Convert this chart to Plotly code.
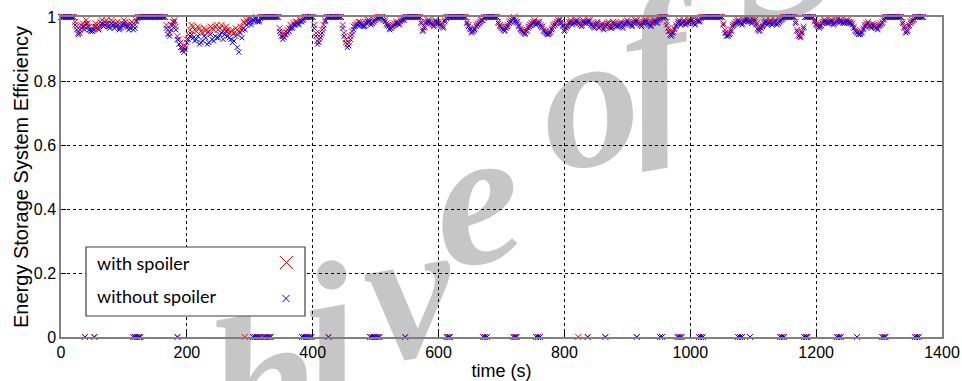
import plotly.graph_objects as go

# ---- data ----
# main samples every 5 s from 0 to 1370 s
time_s = list(range(0, 1371, 5))
# in-between samples (2.5 s later), which give the cloud its spread
time_s_mid = [t + 2.5 for t in range(0, 1370, 5)]

eff_with_spoiler = [
    1, 1, 1, 1, 1, .97, .96, .98, .99, .97, .96, .98, .965, .99, .985, .98, .99, .975, .985, .97,          # 0-95
    .99, .975, .98, .97, .99, 1, 1, 1, 1, 1, 1, 1, 1, 1, .96, .975, .99, .94, .92, .90,                  # 100-195
    .93, .96, .97, .955, .965, .95, .96, .955, .965, .97, .96, .975, .965, .96, .955, .95, .945, .97, .985, .99,  # 200-295
    .995, .99, 1, .99, 1, 1, 1, 1, 1, 1, .95, .945, .96, .975, .98, .985, .99, .995, 1, 1,               # 300-395
    1, .95, .93, .96, .99, 1, 1, 1, 1, 1, .95, .915, .94, .97, .98, .985, .975, .985, .99, .985,          # 400-495
    .995, 1, 1, .99, .975, .97, .98, .985, .99, .995, 1, 1, 1, 1, 1, .96, .985, .99, .98, .99,            # 500-595
    .985, .975, .99, 1, 1, 1, 1, 1, 1, .985, .965, .96, .975, .985, .99, 1, 1, 1, 1, .985,               # 600-695
    .97, .96, .975, .99, 1, .985, .965, .955, .96, .975, .985, .98, .985, .97, .955, .95, .965, .98, .99, .985,  # 700-795
    .96, .975, .99, .985, .99, .98, .99, .985, .99, .975, .98, .97, .98, .975, .985, .97, .98, .975, .985, .98,  # 800-895
    .99, .98, .985, .99, .98, .985, .99, .98, .985, .99, .995, 1, 1, .965, .945, .965, .985, .98, .99, .985,     # 900-995
    .99, .985, .995, .99, 1, 1, 1, 1, 1, 1, 1, .96, .945, .96, .98, .99, .985, .99, .995, .99,            # 1000-1095
    .995, .98, .96, .975, .99, .985, .98, .99, .985, .995, 1, 1, 1, 1, .96, .94, .97, 1, 1, 1,            # 1100-1195
    .98, .97, .985, .99, .985, .99, .985, .995, .99, .985, .99, .985, .97, .955, .95, .965, .98, .975, .98, .97,  # 1200-1295
    .975, .985, 1, 1, 1, 1, 1, 1, .97, .96, .985, .995, 1, 1, 1,                                        # 1300-1370
]

eff_without_spoiler = [
    1, 1, 1, 1, 1, .96, .95, .97, .98, .96, .955, .97, .96, .98, .975, .97, .98, .965, .975, .965,
    .98, .97, .965, .96, .985, 1, 1, 1, 1, 1, 1, 1, 1, 1, .945, .96, .985, .93, .905, .89,
    .92, .94, .935, .93, .915, .925, .935, .92, .93, .94, .935, .95, .945, .94, .93, .925, .905, .95, .965, .975,
    .985, .99, .995, .985, 1, 1, 1, 1, 1, 1, .94, .935, .95, .965, .975, .98, .985, .99, 1, 1,
    1, .94, .92, .95, .985, 1, 1, 1, 1, 1, .94, .905, .93, .96, .975, .98, .97, .98, .985, .98,
    .99, .995, 1, .985, .97, .965, .975, .98, .985, .99, 1, 1, 1, 1, 1, .955, .98, .985, .975, .985,
    .98, .97, .985, 1, 1, 1, 1, 1, 1, .98, .96, .955, .97, .98, .99, 1, 1, 1, 1, .98,
    .965, .955, .97, .985, .995, .98, .96, .95, .955, .97, .98, .975, .98, .965, .95, .945, .96, .975, .985, .98,
    .955, .97, .985, .98, .985, .975, .985, .98, .985, .97, .975, .965, .975, .97, .98, .965, .975, .97, .98, .975,
    .985, .975, .98, .985, .975, .98, .985, .975, .98, .985, .99, 1, 1, .955, .94, .96, .98, .975, .985, .98,
    .985, .98, .99, .985, 1, 1, 1, 1, 1, 1, 1, .95, .94, .955, .975, .985, .98, .985, .99, .985,
    .99, .975, .955, .97, .985, .98, .975, .985, .98, .99, 1, 1, 1, 1, .955, .935, .965, 1, 1, 1,
    .975, .965, .98, .985, .98, .985, .98, .99, .985, .98, .985, .98, .965, .95, .945, .96, .975, .97, .975, .965,
    .97, .98, 1, 1, 1, 1, 1, 1, .965, .955, .98, .99, 1, 1, 1,
]

eff_with_spoiler_mid = [
    1, 1, 1, 1, .985, .95, .975, .97, .98, .96, .97, .975, .985, .975, .99, .97, .985, .98, .965, .98,
    .985, .97, .985, .975, 1, 1, 1, 1, 1, 1, 1, 1, 1, .975, .95, .985, .97, .93, .905, .91,
    .945, .975, .96, .97, .955, .965, .95, .97, .96, .975, .965, .955, .97, .95, .96, .965, .955, .96, .98, .995,
    .985, .995, .99, 1, 1, 1, 1, 1, 1, .965, .94, .955, .965, .97, .985, .98, .99, 1, 1, 1,
    .975, .925, .945, .975, 1, 1, 1, 1, 1, .975, .93, .92, .955, .975, .985, .98, .975, .99, .98, .99,
    1, 1, .995, .98, .965, .975, .985, .98, .995, 1, 1, 1, 1, 1, .985, .97, .99, .985, .975, .985,
    .98, .97, 1, 1, 1, 1, 1, 1, 1, .975, .955, .965, .98, .99, 1, 1, 1, 1, 1, .975,
    .965, .97, .985, .995, .99, .975, .96, .95, .97, .98, .99, .985, .975, .96, .95, .955, .975, .985, .995, .975,
    .97, .985, .98, .99, .985, .975, .985, .99, .98, .97, .985, .975, .965, .98, .97, .985, .975, .98, .97, .985,
    .985, .975, .99, .985, .975, .99, .985, .975, .99, .985, 1, 1, .985, .955, .955, .975, .99, .985, .98, .99,
    .995, .98, .99, 1, 1, 1, 1, 1, 1, 1, .98, .95, .95, .975, .985, .99, .98, .995, .99, .985,
    .99, .965, .97, .985, .98, .99, .985, .98, .99, 1, 1, 1, 1, .985, .945, .955, 1, 1, 1, .99,
    .975, .975, .99, .985, .99, .98, .99, .99, .985, .99, .985, .98, .96, .95, .955, .975, .985, .97, .975, .965,
    .98, .995, 1, 1, 1, 1, 1, .985, .955, .975, .99, 1, 1, 1,
]

eff_without_spoiler_mid = [
    1, 1, 1, 1, .975, .945, .965, .96, .97, .955, .96, .965, .975, .97, .98, .965, .975, .97, .96, .975,
    .975, .96, .975, .965, .995, 1, 1, 1, 1, 1, 1, 1, 1, .965, .94, .975, .96, .915, .895, .9,
    .93, .945, .925, .94, .92, .94, .915, .945, .925, .935, .945, .93, .955, .935, .92, .94, .89, .935, .96, .98,
    .975, .99, .985, .995, 1, 1, 1, 1, 1, .955, .93, .945, .955, .965, .975, .975, .985, 1, 1, 1,
    .965, .915, .935, .965, 1, 1, 1, 1, 1, .965, .92, .91, .945, .97, .975, .975, .97, .985, .975, .985,
    .995, 1, .99, .975, .96, .97, .98, .975, .99, 1, 1, 1, 1, 1, .98, .965, .985, .98, .97, .98,
    .975, .965, .995, 1, 1, 1, 1, 1, 1, .97, .95, .96, .975, .985, .995, 1, 1, 1, 1, .97,
    .96, .965, .98, .99, .985, .97, .955, .945, .965, .975, .985, .98, .97, .955, .945, .95, .97, .98, .99, .97,
    .965, .98, .975, .985, .98, .97, .98, .985, .975, .965, .98, .97, .96, .975, .965, .98, .97, .975, .965, .98,
    .98, .97, .985, .98, .97, .985, .98, .97, .985, .98, .995, 1, .975, .945, .95, .97, .985, .98, .975, .985,
    .99, .975, .985, .995, 1, 1, 1, 1, 1, 1, .975, .94, .945, .97, .98, .985, .975, .99, .985, .98,
    .985, .96, .965, .98, .975, .985, .98, .975, .985, .995, 1, 1, 1, .98, .94, .95, 1, 1, 1, .985,
    .97, .97, .985, .98, .985, .975, .985, .985, .98, .985, .98, .975, .955, .945, .95, .97, .98, .965, .97, .96,
    .975, .99, 1, 1, 1, 1, 1, .98, .95, .97, .985, 1, 1, 1,
]

# times at which the efficiency is zero (vehicle stopped)
stop_times_both = [
    38, 53, 115, 118, 121, 124, 126, 185, 305, 308, 311, 314, 317, 322, 325, 328, 331, 333,
    383, 386, 389, 392, 395, 398, 425, 491, 494, 497, 500, 503, 506, 547, 613, 616, 618,
    671, 674, 677, 719, 722, 724, 755, 758, 761, 837, 865, 915, 952, 955, 980, 983, 986,
    1014, 1017, 1020, 1076, 1079, 1082, 1095, 1143, 1146, 1149, 1181, 1184, 1186,
    1233, 1236, 1239, 1265, 1305, 1308, 1310, 1357, 1360, 1363,
]
stop_times_red_only = [292, 822]

series_names = ["with spoiler", "without spoiler"]
x_ticks = [0, 200, 400, 600, 800, 1000, 1200, 1400]
y_ticks = [0, 0.2, 0.4, 0.6, 0.8, 1]
y_tick_labels = ["0", "0.2", "0.4", "0.6", "0.8", "1"]
watermark_text = "Archive of SID"

assert len(eff_with_spoiler) == len(time_s)
assert len(eff_without_spoiler) == len(time_s)
assert len(eff_with_spoiler_mid) == len(time_s_mid)
assert len(eff_without_spoiler_mid) == len(time_s_mid)

RED = "rgb(255,0,0)"
BLUE = "rgb(0,0,255)"

red_x = time_s + time_s_mid + stop_times_both + stop_times_red_only
red_y = (eff_with_spoiler + eff_with_spoiler_mid
         + [0] * (len(stop_times_both) + len(stop_times_red_only)))
blue_x = time_s + time_s_mid + stop_times_both
blue_y = eff_without_spoiler + eff_without_spoiler_mid + [0] * len(stop_times_both)

fig = go.Figure()
fig.add_trace(go.Scatter(
    x=red_x, y=red_y, mode="markers", name=series_names[0], cliponaxis=False,
    marker=dict(symbol="x-thin", size=6, color=RED, line=dict(color=RED, width=1)),
))
fig.add_trace(go.Scatter(
    x=blue_x, y=blue_y, mode="markers", name=series_names[1], cliponaxis=False,
    marker=dict(symbol="x-thin", size=5, color=BLUE, line=dict(color=BLUE, width=1)),
))

# ---- layout geometry (pixels of the 962x381 canvas) ----
W, H = 962, 381
L, R, T, B = 61, 20, 17, 44
PW, PH = W - L - R, H - T - B


def px(xp):
    return (xp - L) / PW


def py(yp):
    return (H - B - yp) / PH


axis_common = dict(
    showline=True, linecolor="#808080", linewidth=1.5, mirror="ticks",
    ticks="inside", ticklen=5, tickcolor="black", tickwidth=1,
    showgrid=True, gridcolor="black", gridwidth=1, griddash="dot",
    zeroline=False, automargin=False,
    tickfont=dict(family="Liberation Sans, Arial", size=16, color="black"),
)

fig.update_layout(
    width=W, height=H,
    margin=dict(l=L, r=R, t=T, b=B, autoexpand=False),
    paper_bgcolor="white", plot_bgcolor="rgba(0,0,0,0)",
    showlegend=False,
    xaxis=dict(range=[0, 1400], tickvals=x_ticks, **axis_common,
               title=dict(text="time (s)", standoff=6,
                          font=dict(family="Liberation Sans, Arial", size=18, color="black"))),
    yaxis=dict(range=[0, 1], tickvals=y_ticks, ticktext=y_tick_labels, **axis_common,
               title=dict(text="Energy Storage System Efficiency", standoff=0,
                          font=dict(family="Liberation Sans, Arial", size=20, color="black"))),
)

# ---- watermark: one label per glyph, laid along the diagonal, under the grid ----
wm_letters = [c for c in watermark_text if c != " "]
wm_anchor = [(10, 610), (100, 530), (170, 465), (260, 362), (326, 310), (405, 270),
             (472, 176), (585, 78), (652, 40), (780, -70), (860, -140), (950, -210)]
shapes = []
for ch, (cx, cy) in zip(wm_letters, wm_anchor):
    shapes.append(dict(
        type="rect", xref="paper", yref="paper",
        x0=px(cx - 0.5), x1=px(cx + 0.5), y0=py(cy + 0.5), y1=py(cy - 0.5),
        line=dict(width=0), fillcolor="rgba(0,0,0,0)", layer="below",
        label=dict(text=f"<b><i>{ch}</i></b>", textposition="middle center", textangle=-10,
                   font=dict(family="Liberation Serif, DejaVu Serif", size=195, color="#c6c6c6")),
    ))

# ---- legend drawn by hand (text left, marker right, as in the reference) ----
shapes += [
    dict(type="rect", xref="paper", yref="paper", x0=px(86), x1=px(305), y0=py(316), y1=py(247),
         line=dict(color="#404040", width=1.2), fillcolor="white", layer="above"),
    dict(type="line", xref="paper", yref="paper", x0=px(280), x1=px(293), y0=py(256), y1=py(269),
         line=dict(color=RED, width=1), layer="above"),
    dict(type="line", xref="paper", yref="paper", x0=px(280), x1=px(293), y0=py(269), y1=py(256),
         line=dict(color=RED, width=1), layer="above"),
    dict(type="line", xref="paper", yref="paper", x0=px(282.5), x1=px(289.5), y0=py(295), y1=py(302),
         line=dict(color=BLUE, width=1), layer="above"),
    dict(type="line", xref="paper", yref="paper", x0=px(282.5), x1=px(289.5), y0=py(302), y1=py(295),
         line=dict(color=BLUE, width=1), layer="above"),
]
fig.update_layout(shapes=shapes)

annotations = [
    dict(text=series_names[0], xref="paper", yref="paper", x=px(95), y=py(263),
         xanchor="left", yanchor="middle", showarrow=False,
         font=dict(family="Lato, Open Sans", size=18, color="black")),
    dict(text=series_names[1], xref="paper", yref="paper", x=px(95), y=py(296),
         xanchor="left", yanchor="middle", showarrow=False,
         font=dict(family="Lato, Open Sans", size=18, color="black")),
]
fig.update_layout(annotations=annotations)

fig.write_html("out.html", config={"displayModeBar": False},
               post_script="document.body.style.margin='0px';")
